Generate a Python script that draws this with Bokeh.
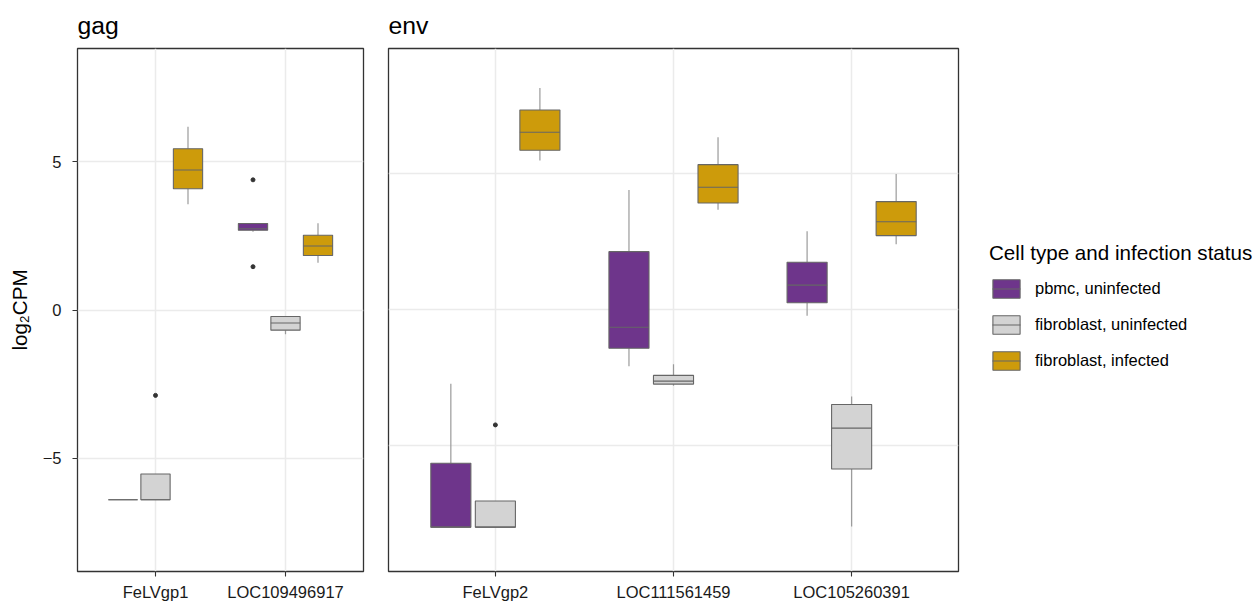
from bokeh.plotting import figure
from bokeh.models import (FactorRange, Range1d, ColumnDataSource, FixedTicker,
                          Legend, LegendItem)
from bokeh.transform import dodge
from bokeh.layouts import row
from bokeh.embed import file_html
from bokeh.resources import INLINE

FONT = "Liberation Sans"

# ---------------- data ----------------
groups = ["pbmc, uninfected", "fibroblast, uninfected", "fibroblast, infected"]
group_colors = ["#6E358B", "#D3D3D3", "#CD9B0B"]
group_offsets = [-0.25, 0.0, 0.25]

gag_genes = ["FeLVgp1", "LOC109496917"]
# each: [lower whisker, q1, median, q3, upper whisker] per gene
gag_pbmc_uninf = [[-6.40, 2.64], [-6.40, 2.69], [-6.40, 2.74], [-6.40, 2.92], [-6.40, 2.92]]
gag_fibro_uninf = [[-6.40, -0.82], [-6.40, -0.68], [-6.40, -0.44], [-5.53, -0.22], [-5.53, -0.22]]
gag_fibro_inf = [[3.57, 1.59], [4.09, 1.84], [4.72, 2.16], [5.44, 2.52], [6.18, 2.93]]
gag_outlier_gene = ["LOC109496917", "LOC109496917", "FeLVgp1"]
gag_outlier_group = ["pbmc, uninfected", "pbmc, uninfected", "fibroblast, uninfected"]
gag_outlier_value = [4.39, 1.46, -2.88]

env_genes = ["FeLVgp2", "LOC111561459", "LOC105260391"]
env_pbmc_uninf = [[-7.99, -2.07, -0.22], [-7.99, -1.41, 0.26], [-7.99, -0.64, 0.91],
                  [-5.64, 2.14, 1.75], [-2.72, 4.41, 2.89]]
env_fibro_uninf = [[-7.99, -2.79, -7.97], [-7.99, -2.73, -5.85], [-7.99, -2.62, -4.35],
                   [-7.03, -2.41, -3.48], [-7.03, -2.00, -3.19]]
env_fibro_inf = [[5.49, 3.68, 2.41], [5.87, 3.93, 2.73], [6.53, 4.51, 3.24],
                 [7.35, 5.34, 3.98], [8.16, 6.35, 5.00]]
env_outlier_gene = ["FeLVgp2"]
env_outlier_group = ["fibroblast, uninfected"]
env_outlier_value = [-4.23]

y_ticks = [-5, 0, 5]
y_tick_labels = {-5: "\u22125", 0: "0", 5: "5"}

# ---------------- style ----------------
BOX_W = 0.225
EDGE = "#666666"
WHISKER = "#9A9A9A"
GRID = "#EBEBEB"
BORDER = "#333333"
TICK_TEXT = "#1A1A1A"


def make_panel(title, genes, yrange, show_y, mb_left, mb_right, fw):
    p = figure(x_range=FactorRange(factors=genes, range_padding=0.1,
                                   range_padding_units="absolute"),
               y_range=Range1d(*yrange),
               frame_width=fw, frame_height=523,
               min_border_left=mb_left, min_border_right=mb_right,
               min_border_top=48, min_border_bottom=31,
               output_backend="svg", toolbar_location=None,
               background_fill_color="white", border_fill_color="white")
    p.title.text = title
    p.title.text_font = FONT
    p.title.text_font_size = "24.75px"
    p.title.text_font_style = "normal"
    p.title.text_color = "black"
    p.title.align = "left"
    p.title.standoff = 19

    p.outline_line_color = BORDER
    p.outline_line_width = 1.3

    p.xgrid.grid_line_color = GRID
    p.xgrid.grid_line_width = 1.5
    p.ygrid.grid_line_color = GRID
    p.ygrid.grid_line_width = 1.5
    p.ygrid.ticker = FixedTicker(ticks=y_ticks)

    xa = p.xaxis[0]
    xa.axis_line_color = None
    xa.major_tick_line_color = BORDER
    xa.major_tick_line_width = 1.1
    xa.major_tick_out = 5
    xa.major_tick_in = 0
    xa.minor_tick_line_color = None
    xa.major_label_standoff = 6
    xa.major_label_text_font = FONT
    xa.major_label_text_font_size = "16.5px"
    xa.major_label_text_color = TICK_TEXT

    ya = p.yaxis[0]
    if show_y:
        ya.ticker = FixedTicker(ticks=y_ticks)
        ya.major_label_overrides = y_tick_labels
        ya.axis_line_color = None
        ya.major_tick_line_color = BORDER
        ya.major_tick_line_width = 1.1
        ya.major_tick_out = 5
        ya.major_tick_in = 0
        ya.minor_tick_line_color = None
        ya.major_label_standoff = 11
        ya.major_label_text_font = FONT
        ya.major_label_text_font_size = "16.5px"
        ya.major_label_text_color = TICK_TEXT
        ya.axis_label = "log\u2082CPM"
        ya.axis_label_text_font = FONT
        ya.axis_label_text_font_size = "20.6px"
        ya.axis_label_text_font_style = "normal"
        ya.axis_label_text_color = "black"
        ya.axis_label_standoff = 9
    else:
        ya.visible = False
    return p


def draw_boxes(p, genes, stats_list, out_gene, out_group, out_value):
    items = []
    for gi, grp in enumerate(groups):
        off = group_offsets[gi]
        s = stats_list[gi]
        src = ColumnDataSource(dict(gene=genes, low=s[0], q1=s[1], med=s[2], q3=s[3], high=s[4]))
        xc = dodge("gene", off, range=p.x_range)
        p.segment(x0=xc, x1=xc, y0="q3", y1="high", source=src,
                  line_color=WHISKER, line_width=1.2)
        p.segment(x0=xc, x1=xc, y0="low", y1="q1", source=src,
                  line_color=WHISKER, line_width=1.2)
        r_box = p.vbar(x=xc, width=BOX_W, top="q3", bottom="q1", source=src,
                       fill_color=group_colors[gi], line_color=EDGE, line_width=1.1)
        p.segment(x0=dodge("gene", off - BOX_W / 2, range=p.x_range),
                  x1=dodge("gene", off + BOX_W / 2, range=p.x_range),
                  y0="med", y1="med", source=src,
                  line_color=EDGE, line_width=1.1)
        og = [g for g, grp2 in zip(out_gene, out_group) if grp2 == grp]
        ov = [v for v, grp2 in zip(out_value, out_group) if grp2 == grp]
        if og:
            osrc = ColumnDataSource(dict(gene=og, val=ov))
            p.scatter(x=xc, y="val", source=osrc, size=4, color="#333333")
        # legend-key median line: a NaN row, so it is drawn only inside the legend key
        key_src = ColumnDataSource(dict(gene=[genes[0]], med=[float("nan")]))
        r_key = p.segment(x0=xc, x1=xc, y0="med", y1="med", source=key_src,
                          line_color=EDGE, line_width=1.1, line_dash="0 3 28 3")
        items.append(LegendItem(label=grp, renderers=[r_box, r_key]))
    return items


gag = make_panel("gag", gag_genes, (-8.82, 8.82), True, 77, 12, 286)
draw_boxes(gag, gag_genes, [gag_pbmc_uninf, gag_fibro_uninf, gag_fibro_inf],
           gag_outlier_gene, gag_outlier_group, gag_outlier_value)

env = make_panel("env", env_genes, (-9.62, 9.61), False, 13, 300, 570)
items = draw_boxes(env, env_genes, [env_pbmc_uninf, env_fibro_uninf, env_fibro_inf],
                   env_outlier_gene, env_outlier_group, env_outlier_value)

legend = Legend(items=items, location=(31, 199),
                title="Cell type and infection status",
                title_text_font=FONT, title_text_font_size="20.6px",
                title_text_font_style="normal", title_text_color="black",
                title_standoff=12,
                label_text_font=FONT, label_text_font_size="16.5px",
                label_text_color="black",
                glyph_width=34, glyph_height=23, label_standoff=12,
                spacing=13, padding=0, margin=0,
                border_line_color=None, background_fill_alpha=0)
env.add_layout(legend, "right")

layout = row(gag, env)

open("out.html", "w").write(file_html(layout, INLINE))
